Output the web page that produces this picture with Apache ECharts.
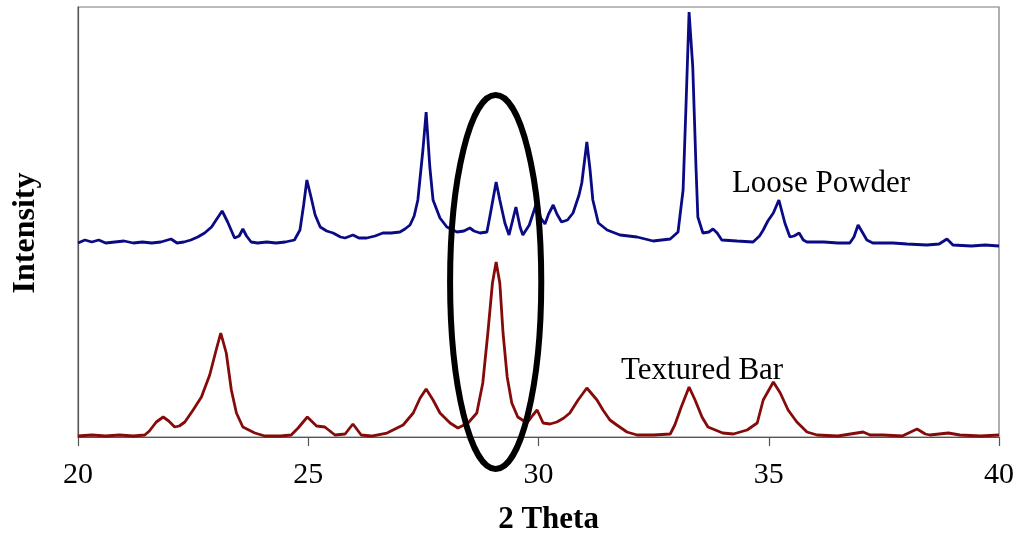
<!DOCTYPE html>
<html>
<head>
<meta charset="utf-8">
<script src="https://cdn.jsdelivr.net/npm/echarts@6/dist/echarts.min.js"></script>
<style>html,body{margin:0;padding:0;background:#fff;}#chart{width:1021px;height:533px;}</style>
</head>
<body>
<div id="chart"></div>
<script>
// Loose Powder (blue) pattern (2θ, relative intensity)
const powderTheta = [20.00,20.15,20.30,20.45,20.60,20.80,21.00,21.20,21.40,21.60,21.80,22.02,22.15,22.30,22.45,22.60,22.75,22.90,23.00,23.13,23.25,23.40,23.50,23.58,23.66,23.76,23.90,24.10,24.30,24.50,24.70,24.82,24.90,24.97,25.05,25.15,25.26,25.40,25.54,25.70,25.80,25.97,26.10,26.27,26.45,26.62,26.80,26.99,27.10,27.21,27.30,27.38,27.49,27.56,27.64,27.71,27.86,28.01,28.23,28.38,28.51,28.60,28.73,28.88,28.95,29.08,29.16,29.27,29.36,29.44,29.51,29.60,29.66,29.80,29.95,30.05,30.14,30.22,30.32,30.40,30.50,30.63,30.75,30.88,30.94,31.05,31.12,31.18,31.30,31.49,31.77,32.14,32.49,32.86,33.03,33.14,33.20,33.27,33.35,33.42,33.46,33.57,33.70,33.79,33.88,33.98,34.31,34.66,34.80,34.88,34.98,35.10,35.22,35.35,35.46,35.55,35.66,35.75,35.83,36.20,36.50,36.76,36.85,36.94,37.03,37.13,37.26,37.70,38.00,38.43,38.70,38.87,39.00,39.40,39.70,40.00];
const powderIntensity = [194,197,195,197,194,195,196,194,195,194,195,198,194,195,197,200,204,210,217,226,215,199,201,208,201,195,194,195,194,195,197,207,232,257,242,222,210,206,204,200,199,202,199,199,201,204,204,205,208,212,221,237,287,325,270,237,219,210,205,206,209,206,204,205,222,255,237,214,202,217,230,210,202,212,233,219,213,223,232,223,215,217,224,242,254,295,267,237,214,207,202,200,196,198,205,247,327,425,370,270,220,204,205,208,204,197,196,195,201,207,216,224,237,214,200,201,204,197,195,195,194,194,200,212,205,197,194,194,193,192,193,198,192,191,192,191];

// Textured Bar (red) pattern
const barTheta = [20.00,20.30,20.60,20.90,21.20,21.45,21.55,21.70,21.85,21.97,22.10,22.20,22.32,22.50,22.68,22.86,23.00,23.10,23.22,23.33,23.44,23.58,23.84,24.06,24.40,24.63,24.78,24.98,25.18,25.36,25.58,25.80,25.97,26.15,26.37,26.71,27.06,27.28,27.43,27.56,27.71,27.86,28.08,28.25,28.47,28.66,28.79,28.90,29.00,29.08,29.16,29.23,29.32,29.42,29.55,29.75,29.88,29.97,30.10,30.25,30.40,30.55,30.68,30.86,31.05,31.27,31.40,31.55,31.70,31.92,32.14,32.50,32.86,32.96,33.10,33.27,33.40,33.55,33.68,34.00,34.23,34.53,34.75,34.88,35.10,35.25,35.42,35.61,35.83,36.05,36.50,37.05,37.20,37.48,37.90,38.22,38.40,38.50,38.90,39.15,39.60,40.00];
const barIntensity = [1,2,1,2,1,2,6,15,20,16,10,11,15,27,40,62,87,104,84,47,24,10,4,1,1,2,9,20,11,10,2,3,13,2,1,4,12,24,39,48,37,24,14,9,14,24,54,104,154,175,154,104,60,34,20,14,22,27,14,13,15,19,24,37,49,37,27,17,12,5,2,2,3,12,30,50,37,20,10,4,3,7,14,37,55,44,27,15,5,2,1,5,2,2,1,8,3,2,4,2,1,2];

const xTicks = {min: 20, max: 40, interval: 5};
const yRange = {min: 0, max: 430};

// annotations (data coordinates)
const powderLabel = {text: 'Loose Powder', theta: 34.2, intensity: 253};
const barLabel = {text: 'Textured Bar', theta: 31.79, intensity: 66};
const ellipseMark = {theta: 29.07, intensity: 155, halfWidth: 0.99, halfHeight: 187};

const serif = '"Liberation Serif", "Times New Roman", serif';

const chart = echarts.init(document.getElementById('chart'), null, {renderer: 'canvas'});
const zip = (xs, ys) => xs.map((x, i) => [x, ys[i]]);

const option = {
  animation: false,
  backgroundColor: '#fff',
  grid: {left: 78, right: 22, top: 7, bottom: 96, show: true, borderColor: '#7a7a7a', borderWidth: 1.2,
         backgroundColor: 'transparent', containLabel: false, outerBoundsMode: 'none'},
  xAxis: {
    type: 'value', min: xTicks.min, max: xTicks.max, interval: xTicks.interval,
    name: '2 Theta', nameLocation: 'middle', nameGap: 67,
    nameTextStyle: {fontFamily: serif, fontWeight: 'bold', fontSize: 31, color: '#000', padding: [0, 0, 0, 20]},
    axisLine: {show: true, lineStyle: {color: '#555', width: 1.2}},
    axisTick: {show: true, inside: false, length: 9, lineStyle: {color: '#555', width: 1.2}},
    axisLabel: {fontFamily: serif, fontSize: 30, color: '#000', margin: 23},
    splitLine: {show: false}
  },
  yAxis: {
    type: 'value', min: yRange.min, max: yRange.max,
    name: 'Intensity', nameLocation: 'middle', nameGap: 36, nameRotate: 90,
    nameTextStyle: {fontFamily: serif, fontWeight: 'bold', fontSize: 32, color: '#000', padding: [0, 22, 0, 0]},
    axisLine: {show: true, lineStyle: {color: '#555', width: 1.2}},
    axisTick: {show: false}, axisLabel: {show: false}, splitLine: {show: false}
  },
  series: [
    {name: 'Loose Powder', type: 'line', data: zip(powderTheta, powderIntensity), showSymbol: false, symbol: 'none',
     lineStyle: {color: '#0a0a85', width: 2.8}, z: 3},
    {name: 'Textured Bar', type: 'line', data: zip(barTheta, barIntensity), showSymbol: false, symbol: 'none',
     lineStyle: {color: '#850a0a', width: 2.8}, z: 3}
  ]
};
chart.setOption(option);

const px = (t, v) => chart.convertToPixel({gridIndex: 0}, [t, v]);
const c = px(ellipseMark.theta, ellipseMark.intensity);
const e = px(ellipseMark.theta + ellipseMark.halfWidth, ellipseMark.intensity + ellipseMark.halfHeight);
const p1 = px(powderLabel.theta, powderLabel.intensity);
const p2 = px(barLabel.theta, barLabel.intensity);

chart.setOption({
  graphic: [
    {type: 'ellipse', z: 100, shape: {cx: c[0], cy: c[1], rx: e[0] - c[0], ry: c[1] - e[1]},
     style: {fill: null, stroke: '#000', lineWidth: 6}},
    {type: 'text', z: 100, x: p1[0], y: p1[1],
     style: {text: powderLabel.text, font: '31px ' + serif, fill: '#000', align: 'left', verticalAlign: 'middle'}},
    {type: 'text', z: 100, x: p2[0], y: p2[1],
     style: {text: barLabel.text, font: '31px ' + serif, fill: '#000', align: 'left', verticalAlign: 'middle'}}
  ]
});
</script>
</body>
</html>
